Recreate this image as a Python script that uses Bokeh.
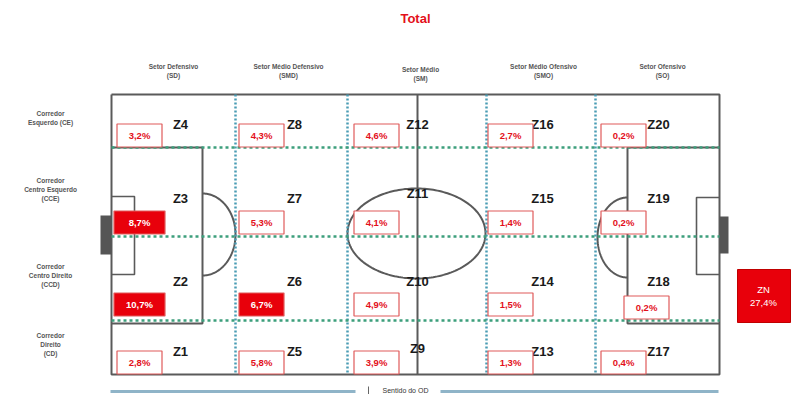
from bokeh.plotting import figure
from bokeh.models import Range1d, ColumnDataSource
from bokeh.core.properties import value
from bokeh.embed import file_html
from bokeh.resources import INLINE
import numpy as np

# ---------------- data ----------------
title = "Total"
sectors = ["Setor Defensivo\n(SD)", "Setor Médio Defensivo\n(SMD)", "Setor Médio\n(SM)",
           "Setor Médio Ofensivo\n(SMO)", "Setor Ofensivo\n(SO)"]
corridors = ["Corredor\nEsquerdo (CE)", "Corredor\nCentro Esquerdo\n(CCE)",
             "Corredor\nCentro Direito\n(CCD)", "Corredor\nDireito\n(CD)"]
zones = ["Z1", "Z2", "Z3", "Z4", "Z5", "Z6", "Z7", "Z8", "Z9", "Z10",
         "Z11", "Z12", "Z13", "Z14", "Z15", "Z16", "Z17", "Z18", "Z19", "Z20"]
pct = [2.8, 10.7, 8.7, 3.2, 5.8, 6.7, 5.3, 4.3, 3.9, 4.9,
       4.1, 4.6, 1.3, 1.5, 1.4, 2.7, 0.4, 0.2, 0.2, 0.2]
zn_label = "ZN"
zn_pct = 27.4
direction_label = "Sentido do OD"
highlight_threshold = 6.0

# ---------------- layout (pixel-like units) ----------------
W, H = 792, 394
FL, FR, FT, FB = 111, 719, 94, 374
RED = "#e3101b"
LINE = "#5a5a5a"

p = figure(width=W, height=H, output_backend="svg", toolbar_location=None,
           x_range=Range1d(0, W), y_range=Range1d(H, 0),
           min_border=0, outline_line_color=None)
p.axis.visible = False
p.grid.visible = False
p.background_fill_color = "white"
p.border_fill_color = "white"

def fmt(v):
    return f"{v:.1f}".replace(".", ",") + "%"

def multiline(xs, ys, texts, spacing, **kw):
    lx, ly, lt = [], [], []
    for x, y, t in zip(xs, ys, texts):
        lines = t.split("\n")
        n = len(lines)
        for i, ln in enumerate(lines):
            lx.append(x)
            ly.append(y + (i - (n - 1) / 2) * spacing)
            lt.append(ln)
    p.text(x=lx, y=ly, text=lt, text_align="center", text_baseline="middle", **kw)

# field outline
p.line([FL, FR, FR, FL, FL], [FT, FT, FB, FB, FT], line_color=LINE, line_width=2)
# centre line
p.line([417, 417], [FT, FB], line_color=LINE, line_width=2)
# penalty boxes
p.line([FL, 202, 202, FL], [147, 147, 323, 323], line_color=LINE, line_width=2)
p.line([FR, 627, 627, FR], [147, 147, 323, 323], line_color=LINE, line_width=2)
# goal areas
p.line([FL, 134, 134, FL], [196, 196, 274, 274], line_color=LINE, line_width=1.6)
p.line([FR, 696, 696, FR], [197, 197, 274, 274], line_color=LINE, line_width=1.6)
# goals
p.quad(left=[100, FR], right=[FL, 728], top=[215, 216], bottom=[254, 253],
       fill_color="#555555", line_color=None)
# centre circle
t = np.linspace(0, 2 * np.pi, 200)
p.line(416 + 69 * np.cos(t), 233 + 45 * np.sin(t), line_color=LINE, line_width=2)
# penalty arcs
ta = np.linspace(-np.pi / 2, np.pi / 2, 100)
p.line(202 + 33 * np.cos(ta), 234 + 41 * np.sin(ta), line_color=LINE, line_width=2)
p.line(627 - 30 * np.cos(ta), 237 + 40 * np.sin(ta), line_color=LINE, line_width=2)

# dotted sector / corridor lines
for vx in [235, 347, 486, 595]:
    p.line([vx, vx], [FT, FB], line_color="#4a9cb4", line_width=2.5, line_dash="2 2")
for hy in [147, 236, 320]:
    p.line([FL, FR], [hy, hy], line_color="#3d9f7c", line_width=2.5, line_dash="3 3")

# zone positions
col_lab_x = [180, 294, 417, 542, 658]
row_lab_y = [124, 198, 281, 351]      # top -> bottom corridors
box_cx = [139, 261, 376, 510, 623]
box_cy = [135, 222, 304, 362]

lab_x, lab_y, bx, by, bw, fill, tcol, ptxt = [], [], [], [], [], [], [], []
for k, (z, v) in enumerate(zip(zones, pct)):
    col = k // 4
    row = 3 - (k % 4)
    lx, ly = col_lab_x[col], row_lab_y[row]
    if z == "Z11":
        ly = 193
    if z == "Z9":
        ly = 348
    cx, cy = box_cx[col], box_cy[row]
    if z == "Z18":
        cx, cy = 646, 307
    lab_x.append(lx); lab_y.append(ly)
    bx.append(cx); by.append(cy)
    hi = v >= highlight_threshold
    bw.append(51 if (hi and col == 0) else 45)
    fill.append("#e8000b" if hi else "white")
    tcol.append("white" if hi else RED)
    ptxt.append(fmt(v))

p.text(x=lab_x, y=lab_y, text=zones, text_align="center", text_baseline="middle",
       text_font=value("Liberation Sans"), text_font_style="bold",
       text_font_size="13px", text_color="#1a1a1a")

src = ColumnDataSource(dict(x=bx, y=by, w=bw, fill=fill, tcol=tcol, t=ptxt))
p.rect(x="x", y="y", width="w", height=23, source=src, fill_color="fill",
       line_color="#e05a5a", line_width=1.2)
p.text(x="x", y="y", text="t", source=src, text_align="center", text_baseline="middle",
       text_font=value("Liberation Sans"), text_font_style="bold",
       text_font_size="9.5px", text_color="tcol")

# ZN box
p.quad(left=[737], right=[790], top=[269], bottom=[322], fill_color="#e8000b",
       line_color="#c00000")
multiline([763], [295], [zn_label + "\n" + fmt(zn_pct)], 13,
          text_font=value("Liberation Sans"), text_font_size="9.5px", text_color="white")

# title
p.text(x=[415], y=[18], text=[title], text_align="center", text_baseline="middle",
       text_font=value("Liberation Sans"), text_font_style="bold",
       text_font_size="13px", text_color=RED)

# sector headers
multiline([173, 288, 420, 543, 662], [70, 70, 73, 70, 70], sectors, 9,
          text_font=value("Liberation Sans"), text_font_style="bold",
          text_font_size="6.5px", text_color="#555555")

# corridor labels
multiline([50, 50, 50, 50], [117, 189, 275, 344], corridors, 9,
          text_font=value("Liberation Sans"), text_font_style="bold",
          text_font_size="6.5px", text_color="#555555")

# direction arrow at the bottom
p.line([110, 355], [391, 391], line_color="#8fb4c8", line_width=3)
p.line([440, 718], [391, 391], line_color="#8fb4c8", line_width=3)
p.line([368, 368], [386, 394], line_color="#666666", line_width=1)
p.text(x=[405], y=[386], text=[direction_label], text_align="center", text_baseline="top",
       text_font=value("Liberation Sans"), text_font_size="7px", text_color="#333333")

open("out.html", "w").write(file_html(p, INLINE))
